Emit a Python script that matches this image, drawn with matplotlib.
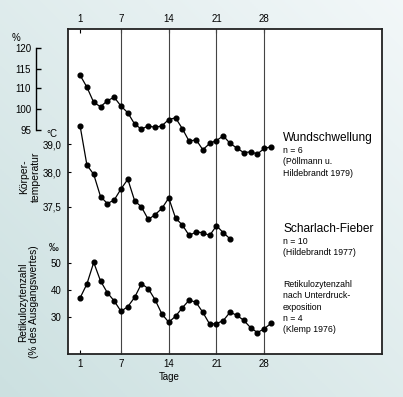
import matplotlib
matplotlib.use("Agg")
import matplotlib.pyplot as plt
import numpy as np

plt.rcParams['font.family'] = ['Liberation Sans', 'DejaVu Sans']

# data
days_wund = list(range(1, 30))
wund = [113.4, 110.3, 103.2, 101.1, 104.0, 105.7, 101.4, 99.1, 96.4, 95.2,
        96.0, 95.6, 96.0, 97.5, 97.9, 95.3, 92.3, 92.7, 90.3, 91.8,
        92.5, 93.6, 91.8, 90.7, 89.6, 89.8, 89.3, 90.6, 91.0]

days_temp = list(range(1, 24))
temp = [39.66, 38.26, 37.97, 37.65, 37.55, 37.60, 37.76, 37.90, 37.59, 37.50,
        37.32, 37.39, 37.48, 37.63, 37.34, 37.24, 37.09, 37.14, 37.13, 37.09,
        37.23, 37.13, 37.04]

days_ret = list(range(1, 30))
retik = [37.1, 42.2, 50.1, 43.3, 39.0, 36.0, 32.2, 33.9, 37.3, 42.3,
         40.5, 36.4, 31.2, 28.2, 30.4, 33.5, 36.3, 35.5, 31.8, 27.5,
         27.7, 28.8, 31.9, 30.7, 28.9, 26.2, 24.4, 25.8, 27.8]

day_ticks = [1, 7, 14, 21, 28]
pct_ticks = [120, 115, 110, 100, 95]
temp_ticks = [39.0, 38.0, 37.5]
temp_labels = ['39,0', '38,0', '37,5']
ret_ticks = [50, 40, 30]

W, H = 403, 397
box = (68, 29, 382, 354)  # left, top, right, bottom in pixels
fs = 7


def pw(x, xp, fp):
    # piecewise linear with linear extrapolation at both ends
    x = np.asarray(x, float)
    xp = np.asarray(xp, float)
    fp = np.asarray(fp, float)
    y = np.interp(x, xp, fp)
    lo = fp[0] + (x - xp[0]) * (fp[1] - fp[0]) / (xp[1] - xp[0])
    hi = fp[-1] + (x - xp[-1]) * (fp[-1] - fp[-2]) / (xp[-1] - xp[-2])
    return np.where(x < xp[0], lo, np.where(x > xp[-1], hi, y))


def axis_scale(ax, vals, pix):
    # the drawn value axes are not evenly spaced, so map them as printed
    vals = np.asarray(vals, float)
    neg = -np.asarray(pix, float)
    fwd = lambda v: pw(v, vals, neg)
    inv = lambda p: pw(p, neg, vals)
    ax.set_yscale('function', functions=(fwd, inv))
    ax.set_ylim(float(inv(-box[3])), float(inv(-box[1])))


fig = plt.figure(figsize=(W / 100, H / 100), dpi=100)

# background gradient
bg = fig.add_axes([0, 0, 1, 1])
bg.set_zorder(0)
g = np.linspace(0, 1, 200)
grad = (g[None, :] + g[::-1, None]) / 2
c0 = np.array([0.80, 0.88, 0.88])
c1 = np.array([0.95, 0.97, 0.975])
img = c0[None, None, :] * (1 - grad[..., None]) + c1[None, None, :] * grad[..., None]
bg.imshow(img, aspect='auto', extent=[0, 1, 0, 1])
bg.axis('off')

rect = [box[0] / W, 1 - box[3] / H, (box[2] - box[0]) / W, (box[3] - box[1]) / H]
ax = fig.add_axes(rect)
ax.set_zorder(1)
ax.set_facecolor('white')
xlim = (7 - (121 - box[0]) / 6.82, 7 + (box[2] - 121) / 6.82)
ax.set_xlim(xlim)
ax.set_ylim(0, 1)
for s in ax.spines.values():
    s.set_linewidth(1.3)
    s.set_color('#222222')
for d in day_ticks[1:]:
    ax.axvline(d, color='#444444', lw=0.8)
ax.set_xticks(day_ticks)
ax.tick_params(axis='x', direction='in', length=3, top=True, labeltop=True,
               labelsize=fs, pad=3.5)
ax.set_yticks([])

lw, ms = 0.9, 3.4

# percent series
axp = fig.add_axes(rect, sharex=ax)
axp.set_zorder(2)
axp.patch.set_alpha(0)
axis_scale(axp, [95, 100, 110, 115, 120], [130, 109, 88.3, 69, 48.3])
axp.plot(days_wund, wund, '-o', color='black', lw=lw, ms=ms)
for k in ['top', 'right', 'bottom']:
    axp.spines[k].set_visible(False)
axp.spines['left'].set_position(('outward', (box[0] - 36) * 0.72))
axp.spines['left'].set_bounds(95, 120)
axp.spines['left'].set_linewidth(1.0)
axp.set_yticks(pct_ticks)
axp.set_yticklabels([str(t) for t in pct_ticks])
axp.minorticks_off()
axp.tick_params(axis='y', direction='in', length=3.5, width=1.0, labelsize=fs, pad=3.5)
axp.tick_params(axis='x', bottom=False, labelbottom=False)

# temperature series
axt = fig.add_axes(rect, sharex=ax)
axt.set_zorder(2)
axt.patch.set_alpha(0)
axis_scale(axt, [37.5, 38.0, 39.0], [207, 172.3, 144.3])
axt.plot(days_temp, temp, '-o', color='black', lw=lw, ms=ms)
for s in axt.spines.values():
    s.set_visible(False)
axt.set_yticks(temp_ticks)
axt.set_yticklabels(temp_labels)
axt.minorticks_off()
axt.tick_params(axis='y', direction='in', length=2.5, labelsize=fs, pad=4.5)
axt.tick_params(axis='x', bottom=False, labelbottom=False)

# reticulocyte series
axr = fig.add_axes(rect, sharex=ax)
axr.set_zorder(2)
axr.patch.set_alpha(0)
axis_scale(axr, [30, 40, 50], [317.3, 290, 262.7])
axr.plot(days_ret, retik, '-o', color='black', lw=lw, ms=ms)
for s in axr.spines.values():
    s.set_visible(False)
axr.set_yticks(ret_ticks)
axr.set_yticklabels([str(t) for t in ret_ticks])
axr.minorticks_off()
axr.tick_params(axis='y', direction='in', length=2.5, labelsize=fs, pad=4.5)
axr.tick_params(axis='x', bottom=False, labelbottom=False)


def px(x, y):
    return x / W, 1 - y / H


fig.text(*px(16, 38), '%', fontsize=fs, ha='center', va='center')
fig.text(*px(52, 134), '°C', fontsize=fs, ha='center', va='center')
fig.text(*px(54, 248), '‰', fontsize=fs, ha='center', va='center')
fig.text(*px(30, 177), 'Körper-\ntemperatur', fontsize=7.5, rotation=90,
         ha='center', va='center', multialignment='center', linespacing=1.1)
fig.text(*px(29, 302), 'Retikulozytenzahl\n(% des Ausgangswertes)', fontsize=7.3,
         rotation=90, ha='center', va='center', multialignment='center', linespacing=1.1)
fig.text(*px(169, 377), 'Tage', fontsize=fs, ha='center', va='center')

tx = 283
fig.text(*px(tx, 138), 'Wundschwellung', fontsize=8.6, ha='left', va='center')
fig.text(*px(tx, 162), 'n = 6\n(Pöllmann u.\nHildebrandt 1979)', fontsize=6.3,
         ha='left', va='center', linespacing=1.35)
fig.text(*px(tx, 229), 'Scharlach-Fieber', fontsize=8.6, ha='left', va='center')
fig.text(*px(tx, 247), 'n = 10\n(Hildebrandt 1977)', fontsize=6.3,
         ha='left', va='center', linespacing=1.35)
fig.text(*px(tx, 307), 'Retikulozytenzahl\nnach Unterdruck-\nexposition\nn = 4\n(Klemp 1976)',
         fontsize=6.3, ha='left', va='center', linespacing=1.35)

fig.savefig('out.png', dpi=100)
